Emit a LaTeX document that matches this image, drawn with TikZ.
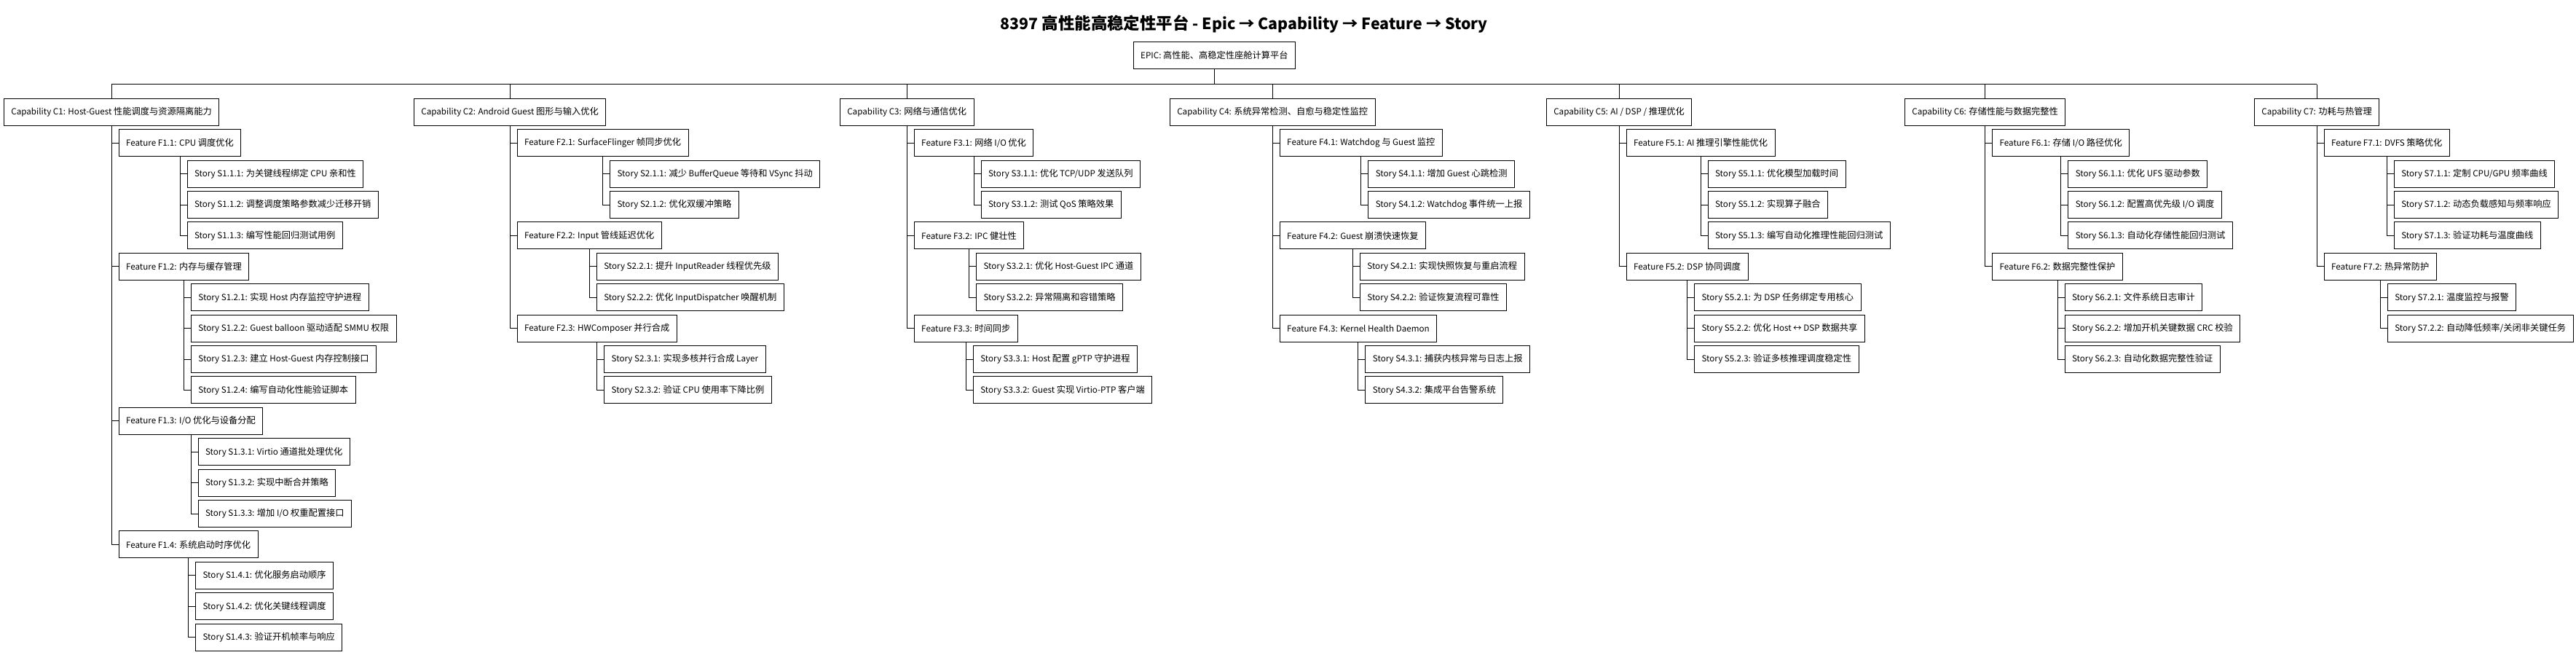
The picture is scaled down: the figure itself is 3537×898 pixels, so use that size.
\documentclass[tikz,border=0pt]{standalone}
\usepackage{fontspec}
\usepackage{graphicx}
\usetikzlibrary{calc}
% measure Latin width of Noto Sans CJK SC and scale Latin so it matches the reference
\newfontfamily\probefont{Noto Sans CJK SC}
\newlength\probelen
\settowidth\probelen{\probefont\fontsize{12.25pt}{14pt}\selectfont Story S4.3.2: Capability C7: }
\pgfmathsetmacro\latscale{149/\probelen}
\edef\tmpfont{\noexpand\setmainfont{Noto Sans CJK SC}[Scale=\latscale]}
\tmpfont
\newfontfamily\cjkfam{Noto Sans CJK SC}
% switch to the unscaled family for CJK characters
\XeTeXinterchartokenstate=1
\newXeTeXintercharclass\CJKcls
\newcount\cjkcc
\cjkcc="4E00
\loop \XeTeXcharclass\cjkcc=\CJKcls \advance\cjkcc by 1 \ifnum\cjkcc<"A000 \repeat
\cjkcc="3000
\loop \XeTeXcharclass\cjkcc=\CJKcls \advance\cjkcc by 1 \ifnum\cjkcc<"3040 \repeat
\XeTeXinterchartoks 0 \CJKcls = {\cjkfam}
\XeTeXinterchartoks 4095 \CJKcls = {\cjkfam}
\XeTeXinterchartoks \CJKcls 0 = {\rmfamily}
\XeTeXinterchartoks \CJKcls 4095 = {\rmfamily}
\tikzset{
  box/.style={draw, line width=1pt, inner xsep=10pt, inner ysep=0pt, minimum height=37pt, outer sep=0pt, font=\fontsize{12.25pt}{14pt}\selectfont},
  conn/.style={line width=1pt},
}
\newcommand\kid[5]{%
  \path let \p1=(#2.south) in node[box,anchor=west] (#1) at (\x1+10pt,{-153.8pt-42.4pt*#3}) {#5};
  \draw[conn] (#2.south) |- (#1.west);
}
\begin{document}
\begin{tikzpicture}[x=1pt,y=-1pt]
\fill[white] (0,0) rectangle (3537,898);
\useasboundingbox (0,0) rectangle (3537,898);
\node[anchor=west, inner sep=0pt] (title) at (1373.5,32.5) {\resizebox{669pt}{!}{\bfseries\fontsize{22pt}{24pt}\selectfont 8397 高性能高稳定性平台 - Epic → Capability → Feature → Story}};
\node[box] (epic) at (1667.4,76.3) {EPIC: 高性能、高稳定性座舱计算平台};
\coordinate (bus) at (0,115.5);
% capabilities
\node[box,anchor=west] (c1) at (5.4,153.8) {Capability C1: Host-Guest 性能调度与资源隔离能力};
\node[box,anchor=west] (c2) at (568.4,153.8) {Capability C2: Android Guest 图形与输入优化};
\node[box,anchor=west] (c3) at (1153.3,153.8) {Capability C3: 网络与通信优化};
\node[box,anchor=west] (c4) at (1606.3,153.8) {Capability C4: 系统异常检测、自愈与稳定性监控};
\node[box,anchor=west] (c5) at (2123.3,153.8) {Capability C5: AI / DSP / 推理优化};
\node[box,anchor=west] (c6) at (2615.3,153.8) {Capability C6: 存储性能与数据完整性};
\node[box,anchor=west] (c7) at (3095.3,153.8) {Capability C7: 功耗与热管理};
\draw[conn] (epic.south) -- (epic.south |- bus);
\draw[conn] (c1.north |- bus) -- (c7.north |- bus);
\foreach \c in {c1,c2,c3,c4,c5,c6,c7} {\draw[conn] (\c.north |- bus) -- (\c.north);}
% C1
\kid{f11}{c1}{1}{}{Feature F1.1: CPU 调度优化}
\kid{s111}{f11}{2}{}{Story S1.1.1: 为关键线程绑定 CPU 亲和性}
\kid{s112}{f11}{3}{}{Story S1.1.2: 调整调度策略参数减少迁移开销}
\kid{s113}{f11}{4}{}{Story S1.1.3: 编写性能回归测试用例}
\kid{f12}{c1}{5}{}{Feature F1.2: 内存与缓存管理}
\kid{s121}{f12}{6}{}{Story S1.2.1: 实现 Host 内存监控守护进程}
\kid{s122}{f12}{7}{}{Story S1.2.2: Guest balloon 驱动适配 SMMU 权限}
\kid{s123}{f12}{8}{}{Story S1.2.3: 建立 Host-Guest 内存控制接口}
\kid{s124}{f12}{9}{}{Story S1.2.4: 编写自动化性能验证脚本}
\kid{f13}{c1}{10}{}{Feature F1.3: I/O 优化与设备分配}
\kid{s131}{f13}{11}{}{Story S1.3.1: Virtio 通道批处理优化}
\kid{s132}{f13}{12}{}{Story S1.3.2: 实现中断合并策略}
\kid{s133}{f13}{13}{}{Story S1.3.3: 增加 I/O 权重配置接口}
\kid{f14}{c1}{14}{}{Feature F1.4: 系统启动时序优化}
\kid{s141}{f14}{15}{}{Story S1.4.1: 优化服务启动顺序}
\kid{s142}{f14}{16}{}{Story S1.4.2: 优化关键线程调度}
\kid{s143}{f14}{17}{}{Story S1.4.3: 验证开机帧率与响应}
% C2
\kid{f21}{c2}{1}{}{Feature F2.1: SurfaceFlinger 帧同步优化}
\kid{s211}{f21}{2}{}{Story S2.1.1: 减少 BufferQueue 等待和 VSync 抖动}
\kid{s212}{f21}{3}{}{Story S2.1.2: 优化双缓冲策略}
\kid{f22}{c2}{4}{}{Feature F2.2: Input 管线延迟优化}
\kid{s221}{f22}{5}{}{Story S2.2.1: 提升 InputReader 线程优先级}
\kid{s222}{f22}{6}{}{Story S2.2.2: 优化 InputDispatcher 唤醒机制}
\kid{f23}{c2}{7}{}{Feature F2.3: HWComposer 并行合成}
\kid{s231}{f23}{8}{}{Story S2.3.1: 实现多核并行合成 Layer}
\kid{s232}{f23}{9}{}{Story S2.3.2: 验证 CPU 使用率下降比例}
% C3
\kid{f31}{c3}{1}{}{Feature F3.1: 网络 I/O 优化}
\kid{s311}{f31}{2}{}{Story S3.1.1: 优化 TCP/UDP 发送队列}
\kid{s312}{f31}{3}{}{Story S3.1.2: 测试 QoS 策略效果}
\kid{f32}{c3}{4}{}{Feature F3.2: IPC 健壮性}
\kid{s321}{f32}{5}{}{Story S3.2.1: 优化 Host-Guest IPC 通道}
\kid{s322}{f32}{6}{}{Story S3.2.2: 异常隔离和容错策略}
\kid{f33}{c3}{7}{}{Feature F3.3: 时间同步}
\kid{s331}{f33}{8}{}{Story S3.3.1: Host 配置 gPTP 守护进程}
\kid{s332}{f33}{9}{}{Story S3.3.2: Guest 实现 Virtio-PTP 客户端}
% C4
\kid{f41}{c4}{1}{}{Feature F4.1: Watchdog 与 Guest 监控}
\kid{s411}{f41}{2}{}{Story S4.1.1: 增加 Guest 心跳检测}
\kid{s412}{f41}{3}{}{Story S4.1.2: Watchdog 事件统一上报}
\kid{f42}{c4}{4}{}{Feature F4.2: Guest 崩溃快速恢复}
\kid{s421}{f42}{5}{}{Story S4.2.1: 实现快照恢复与重启流程}
\kid{s422}{f42}{6}{}{Story S4.2.2: 验证恢复流程可靠性}
\kid{f43}{c4}{7}{}{Feature F4.3: Kernel Health Daemon}
\kid{s431}{f43}{8}{}{Story S4.3.1: 捕获内核异常与日志上报}
\kid{s432}{f43}{9}{}{Story S4.3.2: 集成平台告警系统}
% C5
\kid{f51}{c5}{1}{}{Feature F5.1: AI 推理引擎性能优化}
\kid{s511}{f51}{2}{}{Story S5.1.1: 优化模型加载时间}
\kid{s512}{f51}{3}{}{Story S5.1.2: 实现算子融合}
\kid{s513}{f51}{4}{}{Story S5.1.3: 编写自动化推理性能回归测试}
\kid{f52}{c5}{5}{}{Feature F5.2: DSP 协同调度}
\kid{s521}{f52}{6}{}{Story S5.2.1: 为 DSP 任务绑定专用核心}
\kid{s522}{f52}{7}{}{Story S5.2.2: 优化 Host ↔ DSP 数据共享}
\kid{s523}{f52}{8}{}{Story S5.2.3: 验证多核推理调度稳定性}
% C6
\kid{f61}{c6}{1}{}{Feature F6.1: 存储 I/O 路径优化}
\kid{s611}{f61}{2}{}{Story S6.1.1: 优化 UFS 驱动参数}
\kid{s612}{f61}{3}{}{Story S6.1.2: 配置高优先级 I/O 调度}
\kid{s613}{f61}{4}{}{Story S6.1.3: 自动化存储性能回归测试}
\kid{f62}{c6}{5}{}{Feature F6.2: 数据完整性保护}
\kid{s621}{f62}{6}{}{Story S6.2.1: 文件系统日志审计}
\kid{s622}{f62}{7}{}{Story S6.2.2: 增加开机关键数据 CRC 校验}
\kid{s623}{f62}{8}{}{Story S6.2.3: 自动化数据完整性验证}
% C7
\kid{f71}{c7}{1}{}{Feature F7.1: DVFS 策略优化}
\kid{s711}{f71}{2}{}{Story S7.1.1: 定制 CPU/GPU 频率曲线}
\kid{s712}{f71}{3}{}{Story S7.1.2: 动态负载感知与频率响应}
\kid{s713}{f71}{4}{}{Story S7.1.3: 验证功耗与温度曲线}
\kid{f72}{c7}{5}{}{Feature F7.2: 热异常防护}
\kid{s721}{f72}{6}{}{Story S7.2.1: 温度监控与报警}
\kid{s722}{f72}{7}{}{Story S7.2.2: 自动降低频率/关闭非关键任务}
\end{tikzpicture}
\end{document}
